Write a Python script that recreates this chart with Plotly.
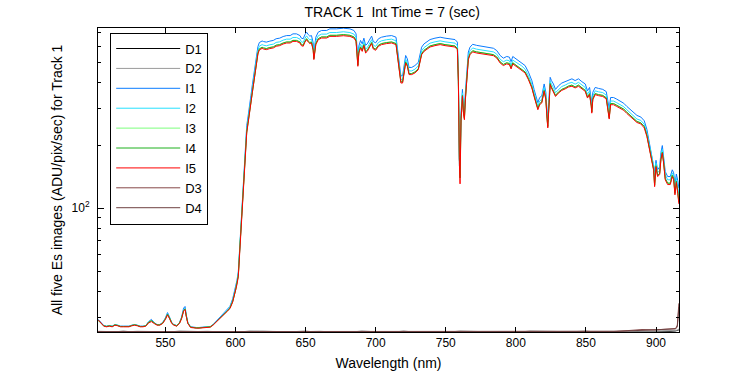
import plotly.graph_objects as go

# ---------------- data ----------------
wl = [502, 504, 506, 508, 510, 512, 514, 516, 518, 520,
      522, 524, 526, 528, 530, 532, 534, 536, 538, 540,
      542, 544, 546, 548, 550, 551.5, 553, 554.5, 556, 558,
      560, 561.5, 563, 564, 565, 566, 568, 570, 572, 574,
      576, 578, 580, 582, 584, 586, 588, 590, 592, 594,
      596, 598, 600, 601, 602, 603, 604, 605, 606, 607,
      608, 609, 610, 611, 612, 613, 614, 615, 616, 617,
      619, 620, 622, 624.5, 627, 629, 631.5, 634, 636.5, 639,
      641, 643.5, 646, 647, 648.3, 649.5, 650.7, 652, 653, 654.2,
      655.4, 655.9, 656.6, 657.3, 659, 661.4, 665, 667.3, 672, 677,
      681.6, 684.5, 686, 686.6, 687.3, 688, 689.2, 690.4, 691.6, 692.8,
      694, 695.4, 697.1, 698.3, 700, 702, 704.2, 707.8, 711.4, 714.5,
      715.7, 716.9, 718, 719.2, 720.2, 721.4, 722.6, 723.8, 725.7, 728,
      730.4, 731.6, 732.8, 734.5, 736.4, 738.8, 742.3, 746, 749.5, 753,
      756.6, 758.3, 759, 759.7, 760.2, 760.9, 761.9, 762.6, 763.3, 764,
      765, 766.1, 767.3, 769.2, 772, 775.7, 779.2, 784, 786.4, 788.8,
      791.1, 793.5, 795.4, 796.6, 797.8, 799.5, 802, 804.2, 806.6, 809,
      811.4, 813, 814.5, 815.7, 817, 818.5, 820.2, 821.4, 822.3, 822.8,
      823.5, 824.5, 825.4, 826.8, 828.3, 830.4, 832.8, 835.2, 837.6, 840,
      842.3, 844.7, 847.1, 849.5, 851.1, 852.6, 853.8, 854.2, 854.9, 856.6,
      859, 862, 864.5, 865.7, 866.6, 867.6, 869.7, 872, 874.5, 877,
      879.2, 881.6, 884, 886.4, 889.2, 891.6, 893.5, 894.9, 896.4, 897.6,
      898.3, 899, 900, 901.1, 902.6, 903.5, 904.5, 905.4, 906.6, 908.3,
      910.2, 911.6, 912.6, 913.5, 914.5, 915.5, 916.3]

I1 = [29.3, 28.2, 27.4, 27.2, 27.4, 27.2, 27.7, 27.5, 27.2, 27.2,
      27.1, 27.2, 27.5, 27.7, 27.5, 27.2, 27.2, 27.4, 28.6, 29.3,
      28.3, 27.7, 27.7, 28.3, 29.8, 31.6, 30.0, 28.3, 27.7, 27.4,
      28.3, 30.0, 33.2, 33.8, 30.5, 28.3, 27.0, 26.8, 26.8, 26.8,
      26.9, 26.8, 26.9, 27.1, 27.7, 28.6, 29.6, 30.5, 31.6, 32.7,
      33.8, 36.8, 41.5, 45.0, 49.5, 66, 90, 118, 155, 192,
      249, 277, 320, 347, 391, 434, 494, 541, 597, 624,
      635, 631, 627, 634, 639, 651, 655, 667, 674, 674,
      687, 687, 674, 655, 651, 680, 700, 680, 670, 674,
      622, 555, 600, 662, 700, 713, 713, 726, 726, 731,
      726, 713, 687, 565, 520, 600, 639, 615, 655, 605,
      615, 639, 670, 631, 622, 651, 662, 670, 674, 662,
      582, 484, 432, 432, 484, 541, 521, 474, 474, 484,
      501, 541, 593, 615, 631, 645, 655, 662, 655, 651,
      645, 627, 440, 170, 165, 285, 372, 310, 288, 360,
      450, 562, 593, 612, 605, 600, 593, 586, 571, 541,
      525, 535, 531, 505, 535, 525, 511, 501, 484, 450,
      410, 372, 340, 321, 340, 346, 395, 360, 290, 270,
      321, 425, 410, 395, 372, 387, 399, 405, 414, 418,
      410, 418, 405, 395, 366, 380, 335, 312, 360, 380,
      376, 372, 363, 327, 300, 340, 340, 334, 327, 319,
      308, 298, 290, 279, 274, 263, 239, 214, 192, 170,
      165, 150, 170, 153, 158, 185, 200, 178, 150, 142,
      142, 153, 148, 130, 146, 136, 125]

I2 = [29.2, 28.1, 27.3, 27.1, 27.3, 27.1, 27.6, 27.4, 27.1, 27.1,
      27.0, 27.1, 27.4, 27.6, 27.4, 27.1, 27.1, 27.3, 28.4, 28.9,
      28.2, 27.6, 27.6, 28.2, 29.6, 31.2, 29.8, 28.2, 27.6, 27.3,
      28.2, 29.8, 32.6, 33.2, 30.3, 28.2, 26.9, 26.7, 26.7, 26.7,
      26.8, 26.7, 26.8, 27.0, 27.6, 28.5, 29.4, 30.3, 31.4, 32.4,
      33.5, 36.2, 41.0, 44.0, 48.5, 64, 87, 114, 150, 185,
      239, 266, 307, 333, 375, 417, 474, 519, 574, 600,
      610, 606, 602, 609, 613, 625, 629, 641, 648, 648,
      660, 660, 648, 629, 625, 653, 672, 653, 644, 648,
      598, 538, 580, 636, 672, 685, 685, 697, 697, 703,
      697, 685, 660, 545, 505, 580, 613, 590, 629, 580,
      590, 613, 644, 606, 598, 625, 636, 644, 648, 636,
      559, 465, 415, 415, 465, 519, 500, 456, 456, 465,
      482, 519, 570, 590, 606, 620, 629, 636, 629, 625,
      620, 602, 424, 160, 155, 278, 358, 298, 278, 346,
      432, 540, 570, 588, 580, 576, 570, 563, 549, 519,
      505, 514, 510, 486, 514, 505, 491, 482, 465, 432,
      394, 359, 327, 309, 327, 333, 380, 346, 280, 260,
      309, 409, 394, 380, 359, 372, 384, 390, 398, 402,
      394, 402, 390, 380, 352, 366, 322, 300, 346, 366,
      362, 359, 349, 315, 285, 327, 327, 321, 315, 307,
      297, 287, 279, 268, 264, 253, 230, 206, 185, 165,
      160, 140, 165, 148, 152, 178, 192, 172, 145, 137,
      137, 148, 143, 124, 140, 128, 116]

I4 = [29.0, 28.1, 27.3, 27.1, 27.3, 27.1, 27.6, 27.4, 27.1, 27.1,
      27.0, 27.1, 27.4, 27.6, 27.4, 27.1, 27.1, 27.3, 28.4, 28.9,
      28.2, 27.6, 27.6, 28.1, 29.5, 31.0, 29.7, 28.2, 27.6, 27.3,
      28.1, 29.7, 32.3, 32.9, 30.2, 28.1, 26.9, 26.7, 26.7, 26.7,
      26.8, 26.7, 26.8, 27.0, 27.6, 28.4, 29.3, 30.1, 31.1, 32.1,
      33.2, 35.8, 40.3, 43.3, 47.5, 63, 85, 111, 147, 180,
      233, 259, 298, 324, 364, 404, 460, 503, 556, 582,
      592, 588, 584, 591, 595, 606, 610, 621, 628, 628,
      639, 639, 628, 610, 606, 633, 651, 633, 624, 628,
      580, 523, 563, 617, 651, 664, 664, 676, 676, 681,
      676, 664, 639, 523, 486, 563, 595, 573, 610, 563,
      573, 595, 624, 588, 580, 606, 617, 624, 628, 617,
      542, 451, 404, 404, 451, 504, 486, 443, 443, 451,
      467, 504, 552, 573, 588, 601, 610, 617, 610, 606,
      601, 584, 412, 175, 140, 270, 348, 290, 270, 336,
      419, 523, 552, 570, 563, 559, 552, 546, 532, 504,
      490, 499, 495, 472, 499, 490, 477, 467, 451, 419,
      382, 348, 318, 301, 318, 324, 368, 336, 270, 247,
      301, 397, 382, 368, 348, 361, 372, 378, 386, 390,
      382, 390, 378, 368, 342, 355, 312, 290, 336, 355,
      351, 348, 339, 306, 272, 318, 318, 312, 306, 299,
      289, 280, 272, 261, 257, 247, 224, 200, 180, 160,
      154, 129, 160, 144, 147, 173, 186, 167, 139, 132,
      132, 144, 139, 118, 135, 120, 107]

# I3 lies underneath I4 everywhere in the picture (not separately visible)
I3 = list(I4)

I5 = [29.2, 28.0, 27.2, 27.0, 27.2, 27.0, 27.5, 27.3, 27.0, 27.0,
      26.9, 27.0, 27.3, 27.5, 27.3, 27.0, 27.0, 27.2, 28.2, 28.6,
      28.0, 27.5, 27.5, 28.0, 29.3, 30.8, 29.5, 28.0, 27.5, 27.2,
      28.0, 29.5, 32.2, 32.7, 30.0, 28.0, 26.8, 26.6, 26.6, 26.6,
      26.7, 26.6, 26.7, 26.9, 27.5, 28.3, 29.2, 30.0, 31.0, 32.0,
      33.0, 35.5, 40.0, 43.0, 47.0, 62, 84, 110, 145, 178,
      230, 256, 295, 320, 360, 400, 455, 498, 550, 575,
      585, 581, 577, 584, 588, 599, 603, 614, 621, 621,
      632, 632, 621, 603, 599, 626, 644, 626, 617, 621,
      573, 517, 556, 610, 644, 656, 656, 668, 668, 673,
      668, 656, 632, 517, 480, 556, 588, 566, 603, 556,
      566, 588, 617, 581, 573, 599, 610, 617, 621, 610,
      536, 446, 399, 399, 446, 498, 480, 438, 438, 446,
      462, 498, 546, 566, 581, 594, 603, 610, 603, 599,
      594, 577, 406, 165, 131, 266, 344, 286, 266, 332,
      414, 517, 546, 563, 556, 552, 546, 540, 526, 498,
      484, 493, 489, 466, 493, 484, 471, 462, 446, 414,
      378, 344, 314, 297, 314, 320, 364, 332, 266, 243,
      297, 392, 378, 364, 344, 357, 368, 374, 382, 385,
      378, 385, 374, 364, 338, 351, 308, 286, 332, 351,
      347, 344, 335, 302, 268, 314, 314, 308, 302, 295,
      285, 276, 268, 258, 254, 243, 221, 198, 178, 158,
      152, 127, 158, 142, 145, 171, 184, 165, 137, 130,
      130, 142, 137, 116, 133, 118, 105]

wl_dark = [502, 510, 520, 530, 540, 550, 560, 570, 580, 590,
           600, 610, 620, 630, 640, 650, 660, 670, 680, 690,
           700, 710, 720, 730, 740, 750, 760, 770, 780, 790,
           800, 810, 820, 830, 840, 850, 860, 870, 880, 890,
           900, 905, 910, 914, 915.2, 915.8, 916.3]

D1 = [25.6, 25.5, 25.7, 25.5, 25.6, 25.5, 25.7, 25.6, 25.5, 25.6,
      25.5, 25.7, 25.6, 25.5, 25.6, 25.7, 25.5, 25.6, 25.5, 25.7,
      25.6, 25.5, 25.7, 25.5, 25.6, 25.5, 25.7, 25.6, 25.5, 25.6,
      25.5, 25.7, 25.6, 25.5, 25.6, 25.7, 25.5, 25.6, 25.5, 25.7,
      25.6, 25.7, 25.7, 25.8, 25.9, 26.0, 26.1]

D2 = [25.7, 25.6, 25.5, 25.7, 25.6, 25.7, 25.5, 25.6, 25.7, 25.5,
      25.6, 25.5, 25.7, 25.6, 25.5, 25.6, 25.7, 25.5, 25.6, 25.6,
      25.7, 25.6, 25.5, 25.7, 25.6, 25.7, 25.5, 25.6, 25.7, 25.5,
      25.6, 25.5, 25.7, 25.6, 25.5, 25.6, 25.7, 25.5, 25.6, 25.6,
      25.7, 25.8, 25.8, 25.9, 26.0, 26.2, 26.4]

D3 = [25.6, 25.6, 25.6, 25.6, 25.6, 25.6, 25.6, 25.6, 25.6, 25.6,
      25.6, 25.6, 25.6, 25.6, 25.6, 25.6, 25.6, 25.6, 25.6, 25.6,
      25.6, 25.6, 25.6, 25.6, 25.6, 25.6, 25.6, 25.6, 25.6, 25.6,
      25.6, 25.6, 25.6, 25.6, 25.6, 25.6, 25.7, 25.7, 25.9, 26.2,
      26.1, 26.3, 26.3, 26.5, 27.5, 31.0, 35.0]

D4 = [25.55, 25.55, 25.55, 25.55, 25.55, 25.55, 25.55, 25.55, 25.55, 25.55,
      25.55, 25.55, 25.55, 25.55, 25.55, 25.55, 25.55, 25.55, 25.55, 25.55,
      25.55, 25.55, 25.55, 25.55, 25.55, 25.55, 25.55, 25.55, 25.55, 25.55,
      25.55, 25.55, 25.55, 25.55, 25.55, 25.55, 25.6, 25.6, 25.8, 26.0,
      26.0, 26.2, 26.2, 26.4, 27.0, 30.0, 33.5]

x_ticks = [550, 600, 650, 700, 750, 800, 850, 900]
y_major = [100]
y_major_text = ["10<sup>2</sup>"]
y_minor = [30, 40, 50, 60, 70, 80, 90, 200, 300, 400, 500, 600, 700]

# ---------------- figure ----------------
series = [
    ("D1", wl_dark, D1, "#000000"),
    ("D2", wl_dark, D2, "#9a9a9a"),
    ("I1", wl, I1, "#0a7cff"),
    ("I2", wl, I2, "#26e0ff"),
    ("I3", wl, I3, "#7dff7d"),
    ("I4", wl, I4, "#1fb01f"),
    ("I5", wl, I5, "#ff0000"),
    ("D3", wl_dark, D3, "#864848"),
    ("D4", wl_dark, D4, "#6e4040"),
]

fig = go.Figure()
for name, xs, ys, col in series:
    fig.add_trace(go.Scatter(x=xs, y=ys, name=name, mode="lines",
                             line=dict(color=col, width=1)))

font_family = "Liberation Sans, Arial, sans-serif"

fig.update_layout(
    width=750, height=375,
    margin=dict(l=98, r=71, t=28, b=43),
    paper_bgcolor="white", plot_bgcolor="white",
    font=dict(family=font_family, size=12, color="black"),
    title=dict(text="TRACK 1\u00a0 Int Time = 7 (sec)", x=0.523, xanchor="center",
               y=0.968, yanchor="middle", yref="container",
               font=dict(size=14, color="black")),
    showlegend=True,
    legend=dict(x=0.021, y=0.985, xanchor="left", yanchor="top",
                bgcolor="white", bordercolor="black", borderwidth=1,
                font=dict(size=13, color="black"), itemwidth=64,
                tracegroupgap=0),
)

fig.update_xaxes(
    range=[501.9, 916.4], tickmode="array", tickvals=x_ticks,
    ticks="inside", ticklen=5, tickcolor="black",
    tickfont=dict(size=12),
    showline=True, linecolor="black", linewidth=1, mirror="ticks",
    showgrid=False, zeroline=False, automargin=False,
    title=dict(text="Wavelength (nm)", standoff=8, font=dict(size=14)),
)

fig.update_yaxes(
    type="log", range=[1.4065, 2.865],
    tickmode="array", tickvals=y_major, ticktext=y_major_text,
    ticks="inside", ticklen=6, tickcolor="black",
    tickfont=dict(size=12), ticklabelstandoff=5,
    minor=dict(tickmode="array", tickvals=y_minor, ticks="inside", ticklen=3,
               tickcolor="black", showgrid=False),
    showline=True, linecolor="black", linewidth=1, mirror="ticks",
    showgrid=False, zeroline=False, automargin=False,
    title=dict(text="All five Es images (ADU/pix/sec) for Track 1", standoff=5,
               font=dict(size=14)),
)

fig.write_html("out.html", config={"displayModeBar": False},
               post_script="document.body.style.margin='0';")
